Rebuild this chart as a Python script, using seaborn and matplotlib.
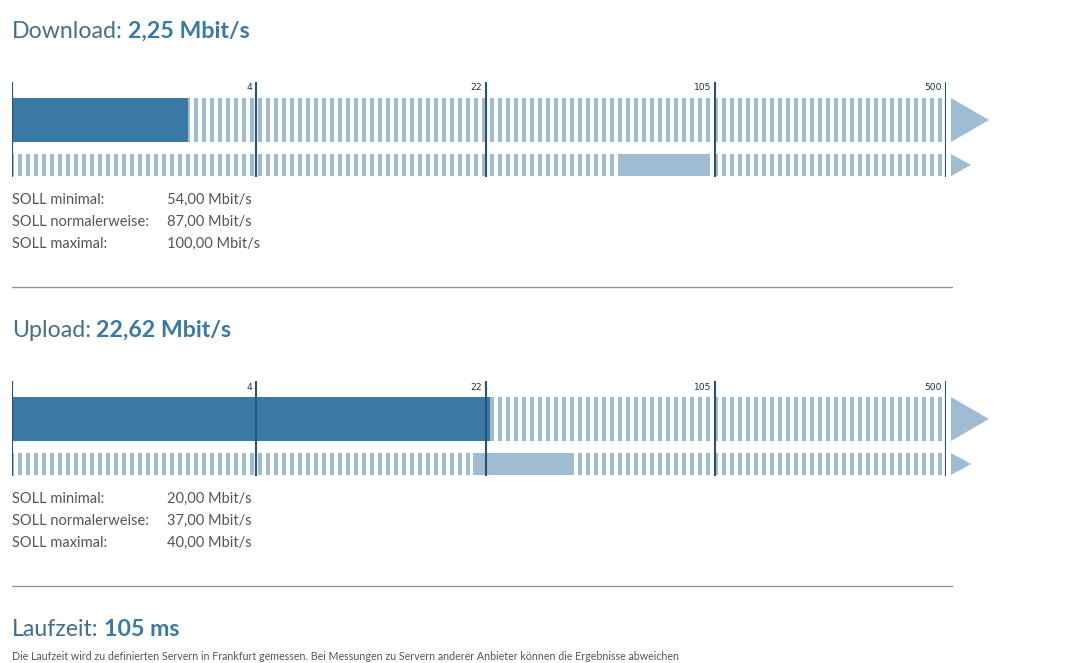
import numpy as np
import matplotlib
matplotlib.use('Agg')
import matplotlib.pyplot as plt
import matplotlib.transforms as mtransforms
from matplotlib.patches import Polygon
import seaborn as sns

# Scale break points (Mbit/s) and labels
scale_marks = [0, 4, 22, 105, 500]
scale_labels = ['', '4', '22', '105', '500']

# Measured values
download_value = 2.25
upload_value = 22.62
laufzeit_ms = 105

# Contract values (min, normal, max)
download_soll = [54.00, 87.00, 100.00]
upload_soll = [20.00, 37.00, 40.00]
soll_names = ['SOLL minimal:', 'SOLL normalerweise:', 'SOLL maximal:']

note_text = ('Die Laufzeit wird zu definierten Servern in Frankfurt gemessen. '
             'Bei Messungen zu Servern anderer Anbieter können die Ergebnisse abweichen')

# Colours
dark_bar = '#3b79a5'
light_bar = '#a0bcd2'
mark_line = '#2b5472'
title_col = '#436f8d'
text_col = '#555555'
sep_col = '#8199a8'

sns.set_style('white')
plt.rcParams['font.family'] = ['Lato', 'DejaVu Sans']
plt.rcParams['hatch.linewidth'] = 3.0

W, H, DPI = 1090, 663, 96
fig = plt.figure(figsize=(W / DPI, H / DPI), dpi=DPI)

# pixel widths of the scale segments
seg_px = [244, 230, 229, 231]
cum_px = np.concatenate([[0], np.cumsum(seg_px)])
log_breaks = np.log([0.5, 4, 22, 105, 500])


def forward(v):
    v = np.clip(np.asarray(v, dtype=float), 0.5, None)
    return np.interp(np.log(v), log_breaks, cum_px)


def inverse(p):
    return np.exp(np.interp(np.asarray(p, dtype=float), cum_px, log_breaks))


def fmt(v):
    return f'{v:.2f}'.replace('.', ',')


def title(y_base, label, value):
    t = fig.text(12 / W, 1 - y_base / H, label, fontsize=17.3, color=title_col,
                 va='baseline', ha='left')
    r = fig.canvas.get_renderer()
    bb = t.get_window_extent(renderer=r)
    fig.text((bb.x1 + 5) / W, 1 - y_base / H, value, fontsize=17.3, color=dark_bar,
             fontweight='bold', va='baseline', ha='left')


def panel(y_top, measured, soll):
    ax = fig.add_axes([12 / W, 1 - (y_top + 95) / H, cum_px[-1] / W, 95 / H])
    ax.set_xscale('function', functions=(forward, inverse))
    ax.set_xlim(0.5, 500)
    ax.set_ylim(95, 0)
    ax.axis('off')

    # striped background rows
    ax.barh([38], [500 - 0.5], left=0.5, height=44, color='white',
            edgecolor=light_bar, hatch='||', linewidth=0)
    ax.barh([83], [500 - 0.5], left=0.5, height=22, color='white',
            edgecolor=light_bar, hatch='||', linewidth=0)

    # measured value and contract range
    ax.barh([38], [measured - 0.5], left=0.5, height=44, color=dark_bar, linewidth=0)
    ax.barh([83], [soll[2] - soll[0]], left=soll[0], height=22, color=light_bar,
            linewidth=0)

    ax.vlines(scale_marks, 0, 95, color=mark_line, linewidth=1.6)
    for m, lab in zip(scale_marks, scale_labels):
        ax.annotate(lab, (max(m, 0.5), 6), xytext=(-3, 0), textcoords='offset points',
                    ha='right', va='center', fontsize=6.8, color='#1f2f3c',
                    family='DejaVu Sans')

    # arrow heads past the end of the scale
    tr = mtransforms.blended_transform_factory(ax.transAxes, ax.transData)
    w = cum_px[-1]
    ax.add_patch(Polygon([[1 + 5 / w, 16], [1 + 43 / w, 38], [1 + 5 / w, 60]],
                         closed=True, color=light_bar, transform=tr, clip_on=False,
                         linewidth=0))
    ax.add_patch(Polygon([[1 + 5 / w, 72], [1 + 25 / w, 83], [1 + 5 / w, 94]],
                         closed=True, color=light_bar, transform=tr, clip_on=False,
                         linewidth=0))
    return ax


def soll_block(y_base, soll):
    for i, (name, v) in enumerate(zip(soll_names, soll)):
        y = 1 - (y_base + 22 * i) / H
        fig.text(12 / W, y, name, fontsize=11, color=text_col, va='baseline')
        fig.text(167 / W, y, fmt(v) + ' Mbit/s', fontsize=11, color=text_col,
                 va='baseline')


def separator(y):
    fig.add_artist(plt.Line2D([12 / W, 952 / W], [1 - y / H, 1 - y / H],
                              color=sep_col, linewidth=1.0))


# Download
title(38, 'Download:', fmt(download_value) + ' Mbit/s')
panel(82, download_value, download_soll)
soll_block(204, download_soll)
separator(287)

# Upload
title(337, 'Upload:', fmt(upload_value) + ' Mbit/s')
panel(381, upload_value, upload_soll)
soll_block(503, upload_soll)
separator(586)

# Laufzeit
title(636, 'Laufzeit:', f'{laufzeit_ms} ms')
fig.text(12 / W, 1 - 660 / H, note_text, fontsize=8, color=text_col, va='baseline')

fig.savefig('out.png', dpi=DPI)
